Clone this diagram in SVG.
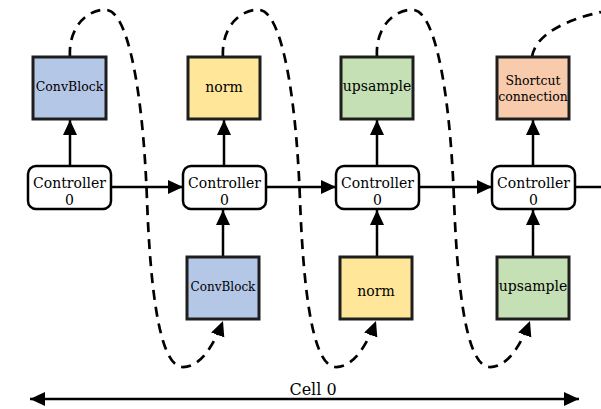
<svg xmlns="http://www.w3.org/2000/svg" width="601" height="409" viewBox="0 0 601 409">
<style>
.box{stroke:#1e1e1e;stroke-width:3}
.ctl{fill:#fff;stroke:#000;stroke-width:2.5}
.t{font-family:"DejaVu Serif","Liberation Serif",serif;fill:#000;text-anchor:middle}
.ln{stroke:#000;stroke-width:2.5;fill:none}
.dash{stroke:#000;stroke-width:2.7;fill:none;stroke-dasharray:10 7}
</style>
<defs>
<marker id="ah" markerUnits="userSpaceOnUse" markerWidth="16" markerHeight="15" refX="15" refY="7" orient="auto-start-reverse">
<path d="M0,0 L15,7 L0,14 z" fill="#000"/>
</marker>
<path id="loop" d="M70,57 C68,25 90,8 107,10 C128,13 143,90 147,200 C150,280 158,365 182,367 C200,368 214,345 223,321"/>
</defs>
<g id="connectors">
<line class="ln" x1="111" y1="187" x2="183" y2="187" marker-end="url(#ah)"/>
<line class="ln" x1="266" y1="187" x2="336" y2="187" marker-end="url(#ah)"/>
<line class="ln" x1="419" y1="187" x2="492" y2="187" marker-end="url(#ah)"/>
<line class="ln" x1="575" y1="187" x2="601" y2="187"/>
<line class="ln" x1="70" y1="166" x2="70" y2="120" marker-end="url(#ah)"/>
<line class="ln" x1="224" y1="166" x2="224" y2="120" marker-end="url(#ah)"/>
<line class="ln" x1="377" y1="166" x2="377" y2="120" marker-end="url(#ah)"/>
<line class="ln" x1="533" y1="166" x2="533" y2="120" marker-end="url(#ah)"/>
<line class="ln" x1="223" y1="257" x2="223" y2="210" marker-end="url(#ah)"/>
<line class="ln" x1="377" y1="257" x2="377" y2="210" marker-end="url(#ah)"/>
<line class="ln" x1="533" y1="257" x2="533" y2="210" marker-end="url(#ah)"/>
<use href="#loop" class="dash" marker-end="url(#ah)"/>
<use href="#loop" class="dash" transform="translate(153,0)" marker-end="url(#ah)"/>
<use href="#loop" class="dash" transform="translate(307,0)" marker-end="url(#ah)"/>
<path class="dash" d="M532,57 C535,35 565,20 601,12"/>
<line class="ln" x1="30" y1="399" x2="579" y2="399" marker-start="url(#ah)" marker-end="url(#ah)"/>
</g>
<g id="top-convblock"><rect class="box" x="33" y="57" width="73" height="62" fill="#B4C7E7"/><text class="t" x="69.5" y="91" font-size="12.5">ConvBlock</text></g>
<g id="top-norm"><rect class="box" x="188" y="57" width="72" height="62" fill="#FFE699"/><text class="t" x="224" y="92" font-size="14">norm</text></g>
<g id="top-upsample"><rect class="box" x="341" y="57" width="72" height="62" fill="#C5E0B4"/><text class="t" x="377" y="91" font-size="14">upsample</text></g>
<g id="top-shortcut"><rect class="box" x="497" y="57" width="72" height="62" fill="#F8CBAD"/><text class="t" x="533" y="85" font-size="12.5">Shortcut</text><text class="t" x="533" y="101" font-size="12.5">connection</text></g>
<g id="ctl1"><rect class="ctl" x="28" y="166" width="83" height="43" rx="8"/><text class="t" x="69.5" y="188" font-size="14">Controller</text><text class="t" x="69.5" y="205" font-size="14">0</text></g>
<g id="ctl2"><rect class="ctl" x="183" y="166" width="83" height="43" rx="8"/><text class="t" x="224.5" y="188" font-size="14">Controller</text><text class="t" x="224.5" y="205" font-size="14">0</text></g>
<g id="ctl3"><rect class="ctl" x="336" y="166" width="83" height="43" rx="8"/><text class="t" x="377.5" y="188" font-size="14">Controller</text><text class="t" x="377.5" y="205" font-size="14">0</text></g>
<g id="ctl4"><rect class="ctl" x="492" y="166" width="83" height="43" rx="8"/><text class="t" x="533.5" y="188" font-size="14">Controller</text><text class="t" x="533.5" y="205" font-size="14">0</text></g>
<g id="bot-convblock"><rect class="box" x="187" y="257" width="72" height="62" fill="#B4C7E7"/><text class="t" x="223" y="291" font-size="12">ConvBlock</text></g>
<g id="bot-norm"><rect class="box" x="340" y="257" width="72" height="62" fill="#FFE699"/><text class="t" x="376" y="296" font-size="14">norm</text></g>
<g id="bot-upsample"><rect class="box" x="497" y="257" width="72" height="62" fill="#C5E0B4"/><text class="t" x="533" y="291" font-size="14">upsample</text></g>
<g id="cell-label"><text class="t" x="313" y="395" font-size="16">Cell 0</text></g>
</svg>
